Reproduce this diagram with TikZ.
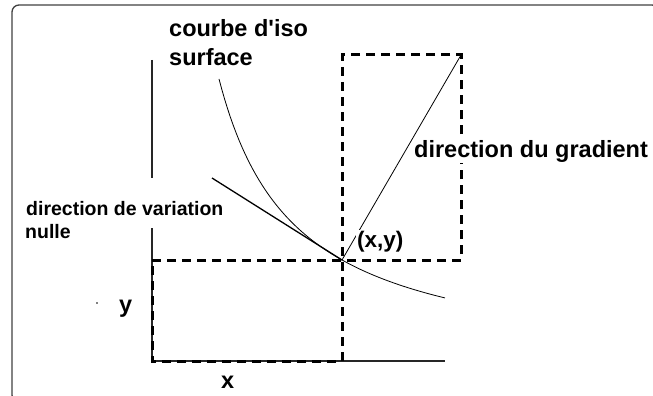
\documentclass[tikz,border=0pt]{standalone}
\usepackage{fontspec}
\setmainfont{Liberation Sans}
\begin{document}
\begin{tikzpicture}[x=1pt,y=-1pt,
  lbl/.style={anchor=base west,inner sep=1pt,font=\bfseries\fontsize{23.5}{28}\selectfont},
  smalllbl/.style={anchor=base west,inner sep=1pt,font=\bfseries\fontsize{19.5}{23}\selectfont},
  axisline/.style={line width=1.3pt,black!85},
  thinline/.style={line width=0.8pt},
  frameline/.style={line width=1.3pt,black!75,rounded corners=7pt}]
\useasboundingbox (0,0) rectangle (653,396);
\clip (0,0) rectangle (653,396);
% frame
\draw[frameline] (12,5) rectangle (659,402);
% named points
\coordinate (O) at (152,361);
\coordinate (Ytop) at (152,60);
\coordinate (Xend) at (445,361);
\coordinate (P) at (342,260);
\coordinate (Py) at (152,260);
\coordinate (Px) at (342,361);
\coordinate (G) at (461,55);
\coordinate (Gx) at (342,55);
\coordinate (Gy) at (461,260);
\coordinate (T) at (212,178);
% axes
\draw[axisline] (Ytop) -- (O) -- (Xend);
% label covering part of the axis
\node[smalllbl,fill=white,text height=33pt,text depth=9pt,inner ysep=4pt,inner xsep=2pt] (nulle1) at (24,215) {direction de variation};
\node[smalllbl] (nulle2) at (24,238) {nulle};
% dashed boxes
\draw[line width=3pt,dash pattern=on 9pt off 6pt,line cap=butt] (Py) -- (P) -- (Gy) -- (G) -- (Gx) -- (Px) -- (O) -- cycle;
% iso surface curve
\draw[thinline] plot[domain=219:445,samples=80] (\x,{371.2-220.94/((\x-143.4)/100)});
% tangent
\draw[line width=1.3pt] (T) -- (P);
% gradient
\draw[thinline] (P) -- (G);
% labels
\node[lbl] (iso1) at (168,37) {courbe d\textquotesingle iso};
\node[lbl] (iso2) at (168,66) {surface};
\node[lbl,fill=white] (grad) at (413,157) {direction du gradient};
\node[lbl,fill=white,font=\bfseries\fontsize{22.5}{27}\selectfont] (xy) at (356,247) {(x,y)};
\node[lbl] (ylab) at (118,312) {y};
\node[lbl] (xlab) at (220,388) {x};
\fill (97,303) circle (0.8) coordinate (dot);
\end{tikzpicture}
\end{document}
